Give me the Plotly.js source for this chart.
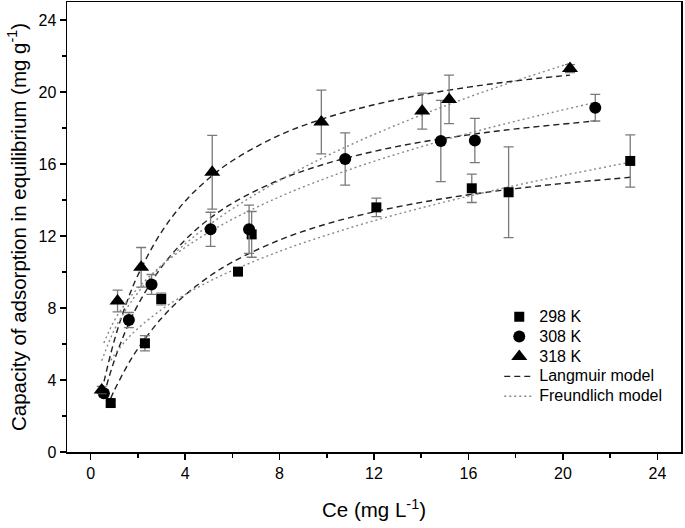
<!DOCTYPE html>
<html>
<head>
<meta charset="utf-8">
<script src="https://cdn.plot.ly/plotly-3.0.1.min.js"></script>
<style>html,body{margin:0;padding:0;background:#fff;}#chart{width:685px;height:528px;}</style>
</head>
<body>
<div id="chart"></div>
<script>
const ce298 = [0.85, 2.30, 2.99, 6.24, 6.82, 12.10, 16.14, 17.70, 22.85];
const q298  = [2.72, 6.04, 8.50, 10.02, 12.09, 13.59, 14.65, 14.43, 16.17];
const e298  = [0.15, 0.42, 0.33, 0.12, 1.27, 0.51, 0.79, 2.52, 1.45];

const ce308 = [0.56, 1.62, 2.58, 5.08, 6.71, 10.78, 14.83, 16.27, 21.37];
const q308  = [3.26, 7.33, 9.31, 12.37, 12.37, 16.28, 17.28, 17.31, 19.13];
const e308  = [0.20, 0.42, 0.55, 0.95, 1.34, 1.45, 2.26, 1.23, 0.74];

const ce318 = [0.47, 1.14, 2.14, 5.15, 9.77, 14.04, 15.18, 20.30];
const q318  = [3.45, 8.39, 10.26, 15.54, 18.33, 18.94, 19.59, 21.30];
const e318  = [0.20, 0.60, 1.10, 2.05, 1.77, 1.00, 1.35, 0.22];

// Model curves
const lx298 = [0.85, 1, 1.5, 2, 3, 4, 5, 6, 8, 10, 12, 14, 16, 18, 20, 22.85];
const ly298 = [2.98, 3.41, 4.67, 5.74, 7.43, 8.72, 9.73, 10.55, 11.78, 12.67, 13.34, 13.87, 14.29, 14.63, 14.92, 15.26];
const fy298 = [5.09, 5.38, 6.21, 6.86, 7.91, 8.75, 9.46, 10.08, 11.15, 12.05, 12.85, 13.56, 14.21, 14.81, 15.36, 16.10];

const lx308 = [0.56, 1, 1.5, 2, 3, 4, 5, 6, 8, 10, 12, 14, 16, 18, 21.37];
const ly308 = [3.17, 5.07, 6.79, 8.17, 10.27, 11.78, 12.93, 13.82, 15.12, 16.03, 16.70, 17.22, 17.62, 17.95, 18.39];
const fy308 = [6.06, 7.29, 8.30, 9.10, 10.36, 11.36, 12.20, 12.93, 14.18, 15.23, 16.15, 16.96, 17.70, 18.38, 19.42];

const lx318 = [0.47, 1, 1.5, 2, 3, 4, 5, 6, 8, 10, 12, 14, 16, 18, 20.3];
const ly318 = [3.37, 6.18, 8.21, 9.82, 12.22, 13.93, 15.19, 16.18, 17.60, 18.58, 19.29, 19.84, 20.27, 20.62, 20.94];
const fy318 = [5.07, 6.78, 7.92, 8.85, 10.35, 11.56, 12.59, 13.51, 15.09, 16.45, 17.64, 18.72, 19.71, 20.62, 21.60];

const xTicks = [0, 4, 8, 12, 16, 20, 24];
const yTicks = [0, 4, 8, 12, 16, 20, 24];
const legendNames = ['298 K', '308 K', '318 K', 'Langmuir model', 'Freundlich model'];

const dashStyle = {color: '#222', width: 1.4, dash: '6px,4px', shape: 'spline'};
const dotStyle  = {color: '#888', width: 1.4, dash: '2px,3px', shape: 'spline'};
const big = s => '<span style="font-size:16px">' + s + '</span>';

function curve(x, y, style, name) {
  return {x: x, y: y, type: 'scatter', mode: 'lines', line: style, name: name,
          showlegend: false, hoverinfo: 'skip'};
}
function pts(x, y, e, sym, size, name) {
  return {x: x, y: y, type: 'scatter', mode: 'markers', name: big(name),
          marker: {symbol: sym, size: size, color: '#000'},
          error_y: {type: 'data', array: e, visible: true, color: '#7a7a7a', thickness: 1.3, width: 5}};
}

const traces = [
  curve(lx298, ly298, dashStyle, 'L298'),
  curve(lx308, ly308, dashStyle, 'L308'),
  curve(lx318, ly318, dashStyle, 'L318'),
  curve(lx298, fy298, dotStyle, 'F298'),
  curve(lx308, fy308, dotStyle, 'F308'),
  curve(lx318, fy318, dotStyle, 'F318'),
  pts(ce298, q298, e298, 'square', 10, legendNames[0]),
  pts(ce308, q308, e308, 'circle', 12, legendNames[1]),
  pts(ce318, q318, e318, 'triangle-up', 14, legendNames[2]),
  {x: [null], y: [null], type: 'scatter', mode: 'lines', line: {color: '#222', width: 1.4, dash: '6px,4px'}, name: big(legendNames[3])},
  {x: [null], y: [null], type: 'scatter', mode: 'lines', line: {color: '#888', width: 1.4, dash: '2px,3px'}, name: big(legendNames[4])}
];

const fontFam = '"Liberation Sans", Arial, sans-serif';
const layout = {
  width: 685, height: 528,
  margin: {l: 67, r: 4, t: 2, b: 76},
  paper_bgcolor: '#fff', plot_bgcolor: '#fff',
  font: {family: fontFam, color: '#000', size: 16},
  showlegend: true,
  legend: {x: 0.704, y: 0.334, xanchor: 'left', yanchor: 'top', bgcolor: 'rgba(0,0,0,0)',
           font: {family: fontFam, size: 13, color: '#000'}, tracegroupgap: 0, itemwidth: 30},
  xaxis: {
    range: [-1, 25], tickmode: 'array', tickvals: xTicks, ticktext: xTicks.map(String),
    ticks: 'outside', ticklen: 6, tickwidth: 1.5, tickcolor: '#000',
    minor: {dtick: 2, tick0: 0, ticks: 'outside', ticklen: 4, tickwidth: 1.5, tickcolor: '#000', showgrid: false},
    showline: true, linecolor: '#000', linewidth: 1.5, mirror: true, showgrid: false, zeroline: false,
    tickfont: {size: 16}, title: {text: 'Ce (mg L<sup>-1</sup>)', font: {size: 20.5}, standoff: 22}
  },
  yaxis: {
    range: [0, 25], tickmode: 'array', tickvals: yTicks, ticktext: yTicks.map(String),
    ticks: 'outside', ticklen: 6, tickwidth: 1.5, tickcolor: '#000',
    minor: {dtick: 2, tick0: 0, ticks: 'outside', ticklen: 4, tickwidth: 1.5, tickcolor: '#000', showgrid: false},
    showline: true, linecolor: '#000', linewidth: 1.5, mirror: true, showgrid: false, zeroline: false,
    tickfont: {size: 16}, title: {text: 'Capacity of adsorption in equilibrium (mg g<sup>-1</sup>)', font: {size: 20.5}, standoff: 6}
  }
};

Plotly.newPlot('chart', traces, layout, {displayModeBar: false, staticPlot: true});
</script>
</body>
</html>
